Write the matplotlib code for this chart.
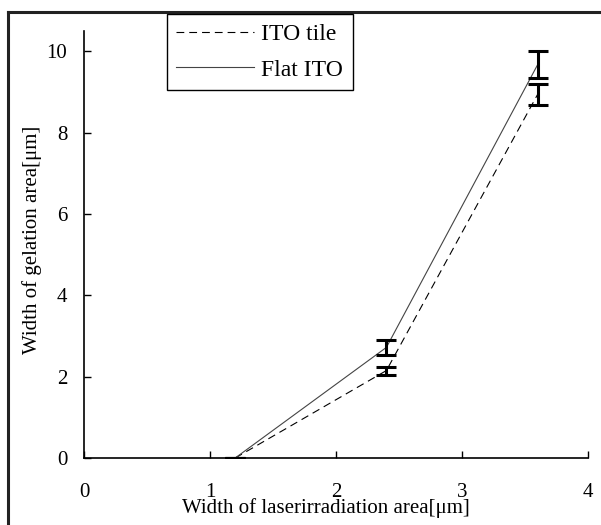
import matplotlib
matplotlib.use("Agg")
import matplotlib.pyplot as plt
from matplotlib.lines import Line2D

# laser irradiation width [um]
laser_width = [1.2, 2.4, 3.6]

# gelation width [um] and error
tile_width = [0.0, 2.15, 8.94]
tile_err = [0.0, 0.10, 0.26]
flat_width = [0.0, 2.72, 9.67]
flat_err = [0.0, 0.18, 0.33]

xticks = [0, 1, 2, 3, 4]
yticks = [0, 2, 4, 6, 8, 10]

plt.rcParams['font.family'] = ['Liberation Serif', 'DejaVu Serif']

fig = plt.figure(figsize=(6.01, 5.25), dpi=100)
ax = fig.add_axes([84/601, 1-458/525, 504/601, 427/525])

dash = (0, (7, 4.5))

# tile series (dashed)
ax.plot(laser_width, tile_width, color='black', lw=0.8, ls=dash, label='ITO tile')
ax.errorbar(laser_width, tile_width, yerr=tile_err, fmt='none', ecolor='black',
            elinewidth=2.2, capsize=7, capthick=2.2)

# flat series (solid)
ax.plot(laser_width, flat_width, color='#444444', lw=0.8, label='Flat ITO')
ax.errorbar(laser_width, flat_width, yerr=flat_err, fmt='none', ecolor='black',
            elinewidth=2.2, capsize=7, capthick=2.2)

ax.set_xlim(0, 4)
ax.set_ylim(0, 10.5)
ax.set_xticks(xticks)
ax.set_yticks(yticks)
ax.spines['top'].set_visible(False)
ax.spines['right'].set_visible(False)
ax.spines['left'].set_linewidth(1.2)
ax.spines['bottom'].set_linewidth(1.2)
ax.tick_params(direction='in', length=5, width=1, labelsize=15)
ax.tick_params(axis='x', pad=18)
ax.tick_params(axis='y', pad=12)

ax.set_xlabel('Width of laserirradiation area[μm]', fontsize=15)
ax.xaxis.set_label_coords(0.48, -0.094)
ax.set_ylabel('Width of gelation area[μm]', fontsize=15)
ax.yaxis.set_label_coords(-0.083, 0.51)

handles = [Line2D([], [], color='black', lw=0.8, ls=dash),
           Line2D([], [], color='#444444', lw=0.8)]
leg = fig.legend(handles, ['ITO tile', 'Flat ITO'], loc='upper left',
                 bbox_to_anchor=(167/601, 1-14/525), borderaxespad=0,
                 fontsize=17, handlelength=3.3, handletextpad=0.3,
                 labelspacing=0.6, fancybox=False, framealpha=1,
                 edgecolor='black')
leg.get_frame().set_linewidth(1.0)

# outer frame, left and top only
fig.add_artist(Line2D([8/601, 8/601], [0, 1-12/525], color='#222222', lw=2.2,
                      transform=fig.transFigure))
fig.add_artist(Line2D([8/601, 1], [1-12/525, 1-12/525], color='#222222', lw=2.2,
                      transform=fig.transFigure))

fig.savefig('out.png', dpi=100)
